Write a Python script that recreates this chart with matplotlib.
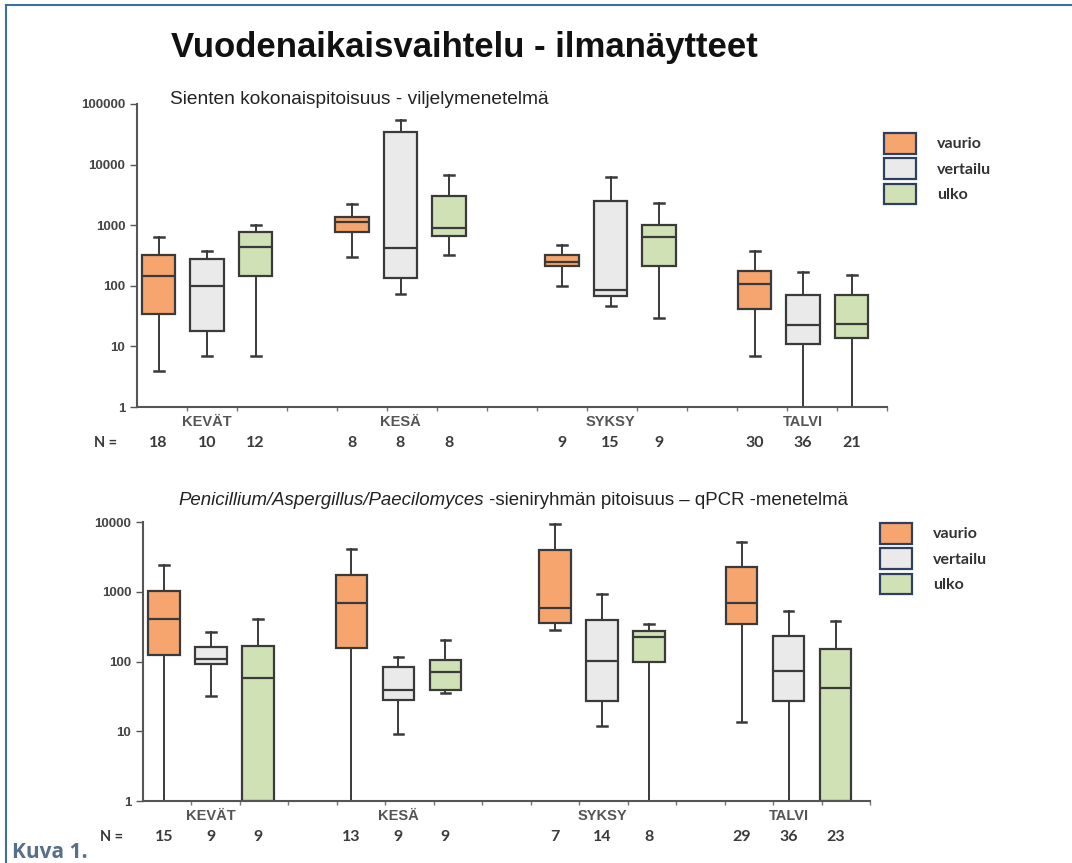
import matplotlib
matplotlib.use("Agg")
import matplotlib.pyplot as plt
from matplotlib.patches import Patch
from matplotlib.lines import Line2D
from matplotlib.text import Annotation

plt.rcParams["font.family"] = ["Liberation Sans", "DejaVu Sans"]

SEASONS = ["KEVÄT", "KESÄ", "SYKSY", "TALVI"]
GROUPS = ["vaurio", "vertailu", "ulko"]
COLORS = ["#F6A56E", "#EAEAEA", "#D0E1B5"]
EDGE = "#3a3a3a"

# top panel: culture method, per season x group -> (whislo, q1, med, q3, whishi)
TOP_LO = [[4.0, 7.0, 7.0], [300, 74, 326], [98, 46, 29], [7.0, 1, 1]]
TOP_Q1 = [[34, 17.7, 147], [763, 135, 672], [210, 67, 210], [41, 11, 13.8]]
TOP_MED = [[147, 100, 437], [1115, 421, 899], [250, 84, 631], [108, 22.8, 23.7]]
TOP_Q3 = [[322, 277, 763], [1366, 34950, 3070], [318, 2507, 1020], [173, 71, 70]]
TOP_HI = [[638, 375, 1000], [2266, 53800, 6820], [465, 6240, 2324], [370, 167, 153]]
TOP_N = [[18, 10, 12], [8, 8, 8], [9, 15, 9], [30, 36, 21]]

# bottom panel: qPCR method
BOT_LO = [[1, 32, 1], [1, 9.0, 35], [286, 11.9, 1], [13.7, 1, 1]]
BOT_Q1 = [[122, 91, 1], [156, 27.7, 38.6], [360, 27, 97], [341, 27, 1]]
BOT_MED = [[406, 108, 58], [689, 39.4, 70], [584, 103, 224], [697, 72, 41.6]]
BOT_Q3 = [[1012, 161, 168], [1717, 83, 104], [4003, 397, 270], [2260, 232, 153]]
BOT_HI = [[2388, 264, 411], [4047, 116, 205], [9240, 937, 348], [5156, 529, 380]]
BOT_N = [[15, 9, 9], [13, 9, 9], [7, 14, 8], [29, 36, 23]]

CENTERS = [1.4, 5.27, 9.47, 13.32]
STEP = 0.97


def draw_panel(ax, lo, q1, med, q3, hi, ns, ymax, width):
    for s, c in enumerate(CENTERS):
        for g in range(3):
            stats = [dict(whislo=lo[s][g], q1=q1[s][g], med=med[s][g],
                          q3=q3[s][g], whishi=hi[s][g], fliers=[])]
            ax.bxp(stats, positions=[c + (g - 1) * STEP], widths=width,
                   capwidths=0.2, patch_artist=True, showfliers=False,
                   boxprops=dict(facecolor=COLORS[g], edgecolor=EDGE, lw=1.6),
                   medianprops=dict(color=EDGE, lw=1.6),
                   whiskerprops=dict(color=EDGE, lw=1.4),
                   capprops=dict(color=EDGE, lw=1.8),
                   manage_ticks=False)
    ndec = len(str(int(ymax)))
    ax.set_yscale("log")
    ax.set_ylim(1, ymax)
    ax.set_xlim(0, 15)
    ax.set_yticks([10 ** k for k in range(ndec)])
    ax.set_yticklabels([str(10 ** k) for k in range(ndec)])
    ax.minorticks_off()
    ax.set_xticks(range(1, 16))
    ax.set_xticklabels([])
    ax.tick_params(axis="x", length=3, width=1, color="#777777")
    ax.tick_params(axis="y", length=5, width=1, color="#555555",
                   labelsize=9.5, labelcolor="#444444")
    for lab in ax.get_yticklabels():
        lab.set_fontweight("bold")
    for sp in ("top", "right"):
        ax.spines[sp].set_visible(False)
    for sp in ("left", "bottom"):
        ax.spines[sp].set_color("#555555")
        ax.spines[sp].set_linewidth(1.5)
    ax.set_facecolor("none")
    for s, c in enumerate(CENTERS):
        ax.annotate(SEASONS[s], xy=(c, 0), xycoords=("data", "axes fraction"),
                    xytext=(0, -11), textcoords="offset points", ha="center",
                    va="center", fontsize=10.5, fontweight="bold", color="#555555")
        for g in range(3):
            ax.annotate(str(ns[s][g]), xy=(c + (g - 1) * STEP, 0),
                        xycoords=("data", "axes fraction"), xytext=(0, -26),
                        textcoords="offset points", ha="center", va="center",
                        fontsize=11.5, family=["Lato", "DejaVu Sans"],
                        fontweight="bold", color="#3a3a3a")
    ax.annotate("N =", xy=(0, 0), xycoords="axes fraction", xytext=(-14, -26),
                textcoords="offset points", ha="right", va="center",
                fontsize=10.5, family=["Lato", "DejaVu Sans"], fontweight="bold",
                color="#3a3a3a")


def legend(fig, x, y):
    handles = [Patch(facecolor=COLORS[g], edgecolor="#2f3f60", lw=1.6)
               for g in range(3)]
    fig.legend(handles, GROUPS, loc="upper left", bbox_to_anchor=(x, y),
               frameon=False, handlelength=2.0, handleheight=1.6,
               handletextpad=1.3, labelspacing=0.3, borderpad=0,
               prop=dict(family=["Lato", "DejaVu Sans"], size=11.5,
                         weight="bold"), labelcolor="#333333")


W, H = 1072, 863
fig = plt.figure(figsize=(W / 100, H / 100), dpi=100)

ax1 = fig.add_axes([137 / W, 1 - 407 / H, 750 / W, 303 / H])
draw_panel(ax1, TOP_LO, TOP_Q1, TOP_MED, TOP_Q3, TOP_HI, TOP_N, 100000, 0.67)
ax2 = fig.add_axes([143 / W, 1 - 801 / H, 727 / W, 279 / H])
draw_panel(ax2, BOT_LO, BOT_Q1, BOT_MED, BOT_Q3, BOT_HI, BOT_N, 10000, 0.65)

legend(fig, 876 / W, 1 - 125 / H)
legend(fig, 872 / W, 1 - 515 / H)

fig.text(464 / W, 1 - 48 / H, "Vuodenaikaisvaihtelu - ilmanäytteet",
         ha="center", va="center", fontsize=25, fontweight="bold", color="#111111")
fig.text(170 / W, 1 - 100 / H, "Sienten kokonaispitoisuus - viljelymenetelmä",
         ha="left", va="center", fontsize=13.8, color="#222222")
t1 = fig.text(178 / W, 1 - 500 / H, "Penicillium/Aspergillus/Paecilomyces",
              ha="left", va="center", fontsize=13.4, style="italic", color="#222222")
fig.add_artist(Annotation(
    " -sieniryhmän pitoisuus – qPCR -menetelmä", xy=(1, 0.5), xycoords=t1,
    ha="left", va="center", fontsize=13.4, color="#222222"))

fig.text(12 / W, 1 - 852 / H, "Kuva 1.", ha="left", va="center", fontsize=15,
         fontweight="bold", family=["Open Sans", "DejaVu Sans"], color="#56708a")

# page frame: top and left rules
fig.add_artist(Line2D([6 / W, 1], [1 - 5 / H, 1 - 5 / H], color="#3f6e9e", lw=1.5))
fig.add_artist(Line2D([6 / W, 6 / W], [0, 1 - 5 / H], color="#3f6e9e", lw=1.5))

fig.savefig("out.png", dpi=100, facecolor="white")
